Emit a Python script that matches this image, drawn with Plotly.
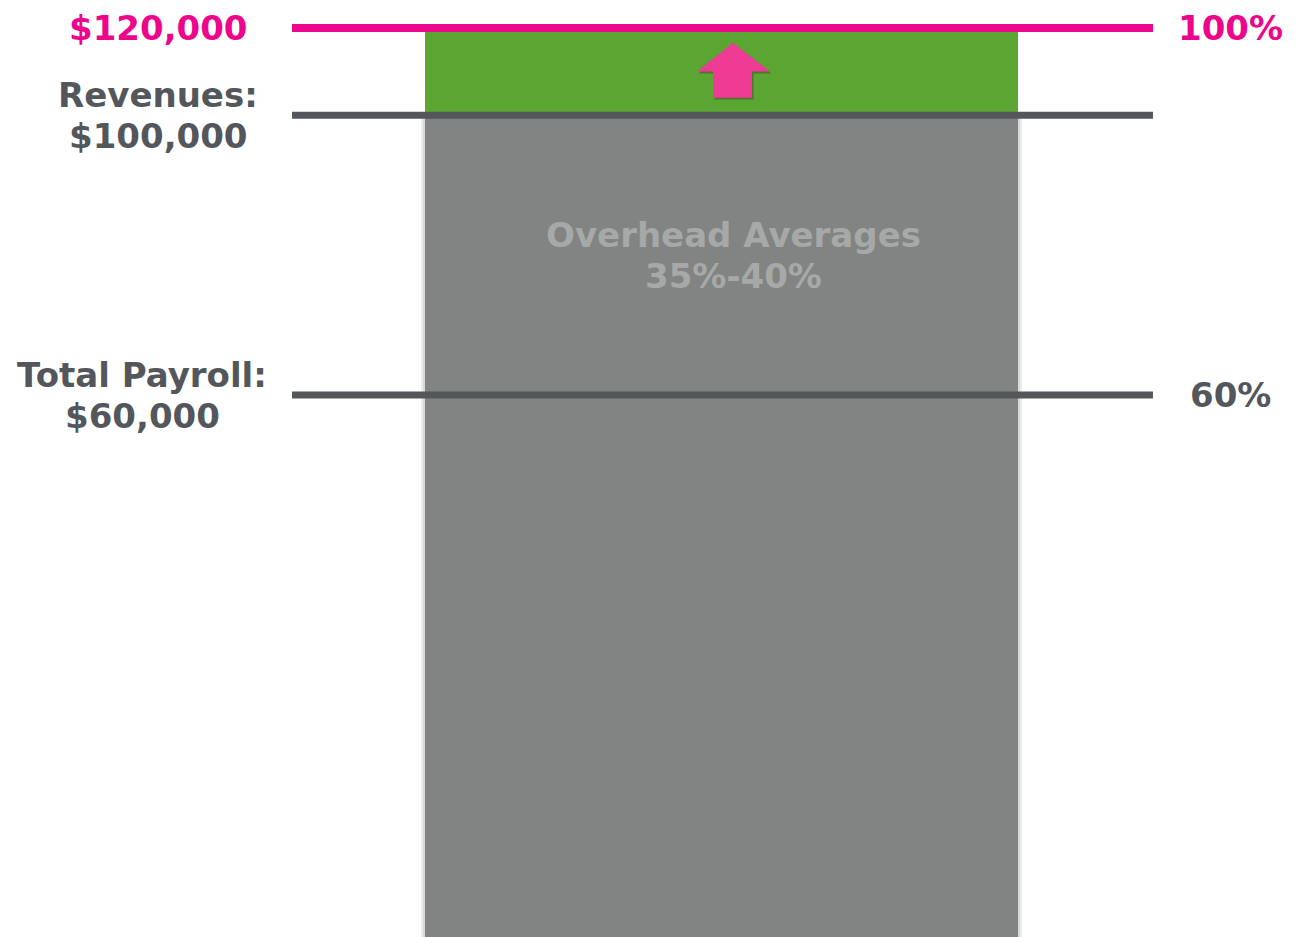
import plotly.graph_objects as go

# ---- data (levels expressed as % of the $120,000 target) ----
level_names = ["Target", "Revenues", "Total Payroll"]
level_pct = [100, 90.5, 60]
left_labels = [["$120,000"], ["Revenues:", "$100,000"], ["Total Payroll:", "$60,000"]]
right_labels = ["100%", "", "60%"]
level_colors = ["#ec068c", "#53575b", "#53575b"]
bar_text = ["Overhead Averages", "35%-40%"]

W, H = 1296, 937
FONT = "DejaVu Sans"
PINK = "#ec068c"
GRAY_TXT = "#53575b"
GREEN = "#5ba532"
BAR_GRAY = "#818483"

y_range = [0.93, 103.05]
bar_center, bar_width = 721.5, 593

fig = go.Figure()

# gray (payroll + overhead) block up to revenues
fig.add_trace(go.Bar(x=[bar_center], y=[level_pct[1]], base=[0], width=[bar_width],
                     marker=dict(color=BAR_GRAY, line=dict(width=0)), hoverinfo="skip"))
# green gap between revenues and target
fig.add_trace(go.Bar(x=[bar_center], y=[level_pct[0] - level_pct[1]], base=[level_pct[1]],
                     width=[bar_width], marker=dict(color=GREEN, line=dict(width=0)),
                     hoverinfo="skip"))

shapes = []
# soft shadow behind the bar
for pad, col in [(4, "#ececec"), (2, "#d9d9d9")]:
    shapes.append(dict(type="rect", layer="below", xref="x", yref="y",
                       x0=bar_center - bar_width / 2 - pad, x1=bar_center + bar_width / 2 + pad,
                       y0=y_range[0] - 1, y1=level_pct[1], fillcolor=col, line=dict(width=0)))

# horizontal level lines
for lvl, col in zip(level_pct, level_colors):
    shapes.append(dict(type="line", layer="above", xref="x", yref="y",
                       x0=292, x1=1153, y0=lvl, y1=lvl,
                       line=dict(color=col, width=8 if col == PINK else 7)))

# upward arrow inside the green band
lo, hi = level_pct[1], level_pct[0]
band = hi - lo
ax = 733
y_bot, y_mid, y_tip = lo + 0.2 * band, lo + 0.5 * band, lo + 0.83 * band
def arrow_path(dx=0.0, dy=0.0):
    pts = [(ax - 20 + dx, y_bot + dy), (ax - 20 + dx, y_mid + dy), (ax - 36 + dx, y_mid + dy),
           (ax + dx, y_tip + dy), (ax + 37 + dx, y_mid + dy), (ax + 19 + dx, y_mid + dy),
           (ax + 19 + dx, y_bot + dy)]
    return "M " + " L ".join(f"{x},{y}" for x, y in pts) + " Z"
shapes.append(dict(type="path", xref="x", yref="y", path=arrow_path(1.5, -0.2),
                   fillcolor="rgba(60,60,40,0.45)", line=dict(width=0)))
shapes.append(dict(type="path", xref="x", yref="y", path=arrow_path(),
                   fillcolor="#ee3b94", line=dict(width=0)))

annotations = []
left_x = [158, 158, 142]
for lines, lvl, col, lx in zip(left_labels, level_pct, level_colors, left_x):
    n = len(lines)
    for i, t in enumerate(lines):
        shift = (n - 1) / 2 * 41 - i * 41
        annotations.append(dict(x=lx, y=lvl, xref="x", yref="y", text=f"<b>{t}</b>",
                                showarrow=False, xanchor="center", yanchor="middle",
                                yshift=shift,
                                font=dict(family=FONT, size=34, color=col)))
for t, lvl, col in zip(right_labels, level_pct, level_colors):
    if t:
        annotations.append(dict(x=1230, y=lvl, xref="x", yref="y", text=f"<b>{t}</b>",
                                showarrow=False, xanchor="center", yanchor="middle",
                                font=dict(family=FONT, size=34, color=col)))
# text inside the gray block
text_y = level_pct[2] + 0.5 * (level_pct[1] - level_pct[2])
for i, t in enumerate(bar_text):
    annotations.append(dict(x=ax, y=text_y, xref="x", yref="y", text=f"<b>{t}</b>",
                            showarrow=False, xanchor="center", yanchor="middle",
                            yshift=20.5 - i * 41,
                            font=dict(family=FONT, size=34, color="#a7a9a8")))

fig.update_layout(
    width=W, height=H, margin=dict(l=0, r=0, t=0, b=0),
    paper_bgcolor="white", plot_bgcolor="white",
    showlegend=False, barmode="overlay",
    xaxis=dict(range=[0, W], visible=False, fixedrange=True),
    yaxis=dict(range=y_range, visible=False, fixedrange=True),
    shapes=shapes, annotations=annotations,
)

fig.write_html("out.html", config={"displayModeBar": False})
